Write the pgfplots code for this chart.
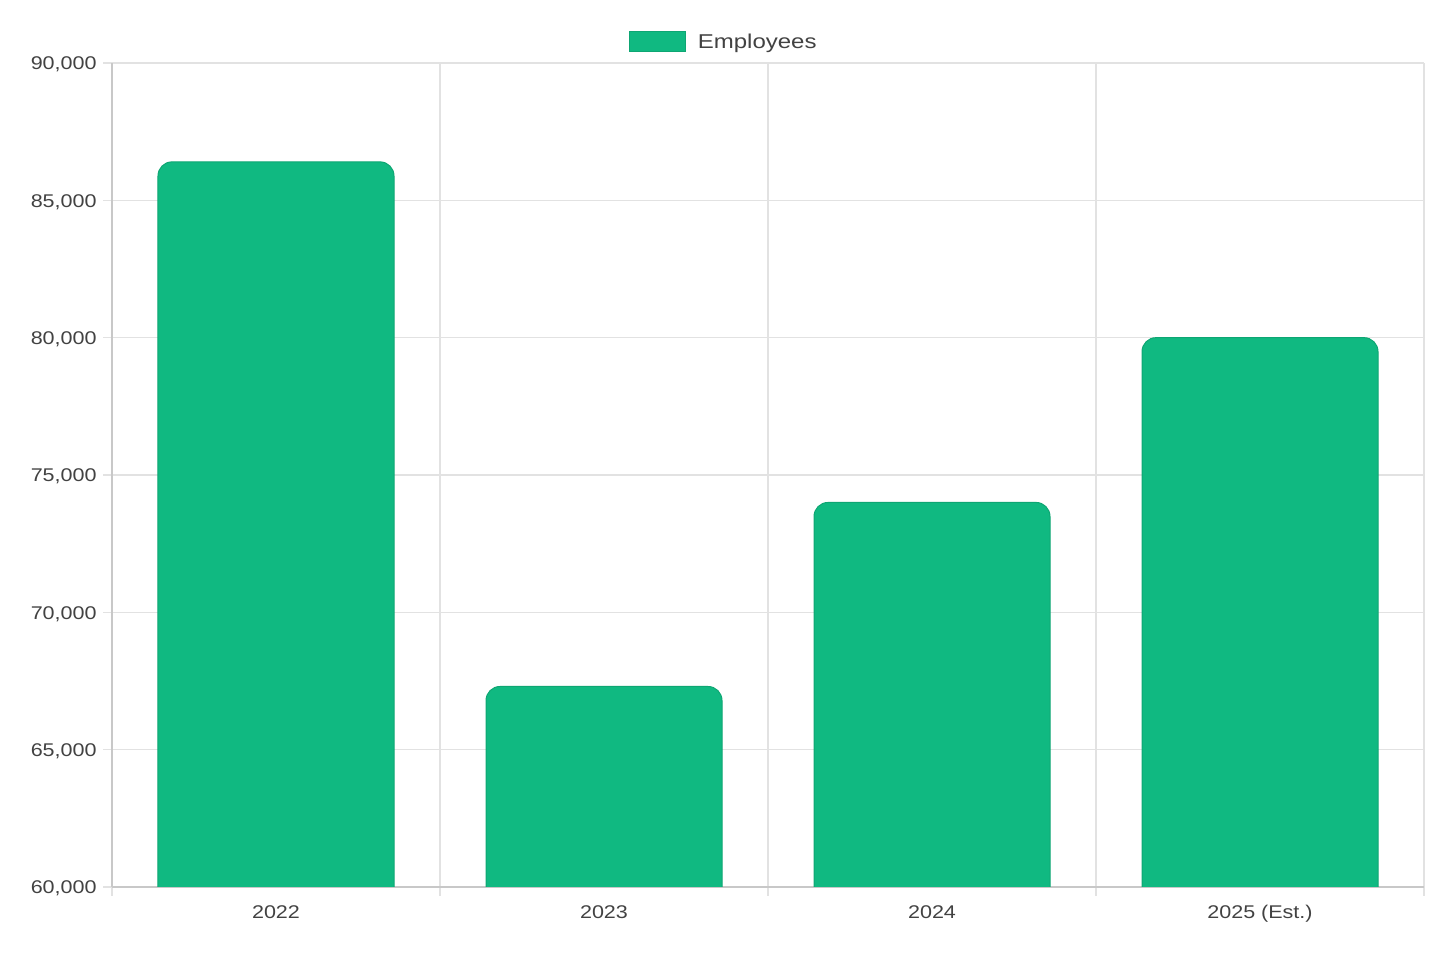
\documentclass[border=0pt]{standalone}
\usepackage{pgfplots}
\pgfplotsset{compat=1.18}
\usepackage{fontspec}
\setmainfont{Liberation Sans}
\newfontfamily\tickfont[FakeStretch=1.17]{Liberation Sans}
\newfontfamily\legfont[FakeStretch=1.2]{Liberation Sans}
\definecolor{bar}{HTML}{10B981}
\definecolor{barline}{HTML}{0EA673}
\definecolor{gridc}{HTML}{E2E2E2}
\definecolor{axisc}{HTML}{C8C8C8}
\definecolor{txt}{HTML}{424242}
\pgfdeclareplotmark{rbar}{%
  \pgfsetcornersarced{\pgfqpoint{7pt}{7pt}}%
  \pgfpathmoveto{\pgfqpoint{-59pt}{-700pt}}%
  \pgfpathlineto{\pgfqpoint{-59pt}{0pt}}%
  \pgfpathlineto{\pgfqpoint{59pt}{0pt}}%
  \pgfpathlineto{\pgfqpoint{59pt}{-700pt}}%
  \pgfpathclose
  \pgfusepath{fill,stroke}}
\begin{document}
\begin{tikzpicture}
\begin{axis}[
  scale only axis, width=656pt, height=412pt,
  xmin=-0.5, xmax=3.5, ymin=60000, ymax=90000,
  axis lines*=left,
  axis line style={axisc, line width=0.7pt},
  xtick={-0.5,0.5,1.5,2.5,3.5},
  x tick label as interval,
  xticklabels={2022,2023,2024,2025 (Est.)},
  ytick={60000,65000,...,90000},
  scaled y ticks=false,
  tick align=outside,
  major tick length=4.5pt,
  tick style={gridc, line width=0.7pt},
  grid=major,
  grid style={gridc, line width=0.7pt},
  clip marker paths=true,
  xticklabel style={font=\tickfont\fontsize{9.2}{10}\selectfont, text=txt, inner sep=0pt, yshift=-4.5pt},
  yticklabel style={font=\tickfont\fontsize{9.2}{10}\selectfont, text=txt, inner sep=0pt, xshift=-3pt, yshift=-0.8pt,
    /pgf/number format/1000 sep={,}, /pgf/number format/assume math mode=true},
  legend style={draw=none, fill=none, at={(0.467,1)}, anchor=center, yshift=10pt,
    font=\legfont\fontsize{10}{12}\selectfont, text=txt, column sep=4pt},
  legend image code/.code={\draw[fill=bar, draw=barline, line width=0.5pt] (0pt,-4.5pt) rectangle (28pt,5.5pt);},
]
\addplot[only marks, mark=rbar, mark options={fill=bar, draw=barline, line width=0.5pt}]
  coordinates {(0,86400) (1,67300) (2,74000) (3,80000)};
\addlegendentry{Employees}
\coordinate (SW) at (rel axis cs:0,0);
\coordinate (NE) at (rel axis cs:1,1);
\end{axis}
\pgfresetboundingbox
\path[use as bounding box] ([shift={(-56pt,-36.5pt)}]SW) rectangle ([shift={(16pt,31.5pt)}]NE);
\end{tikzpicture}
\end{document}
